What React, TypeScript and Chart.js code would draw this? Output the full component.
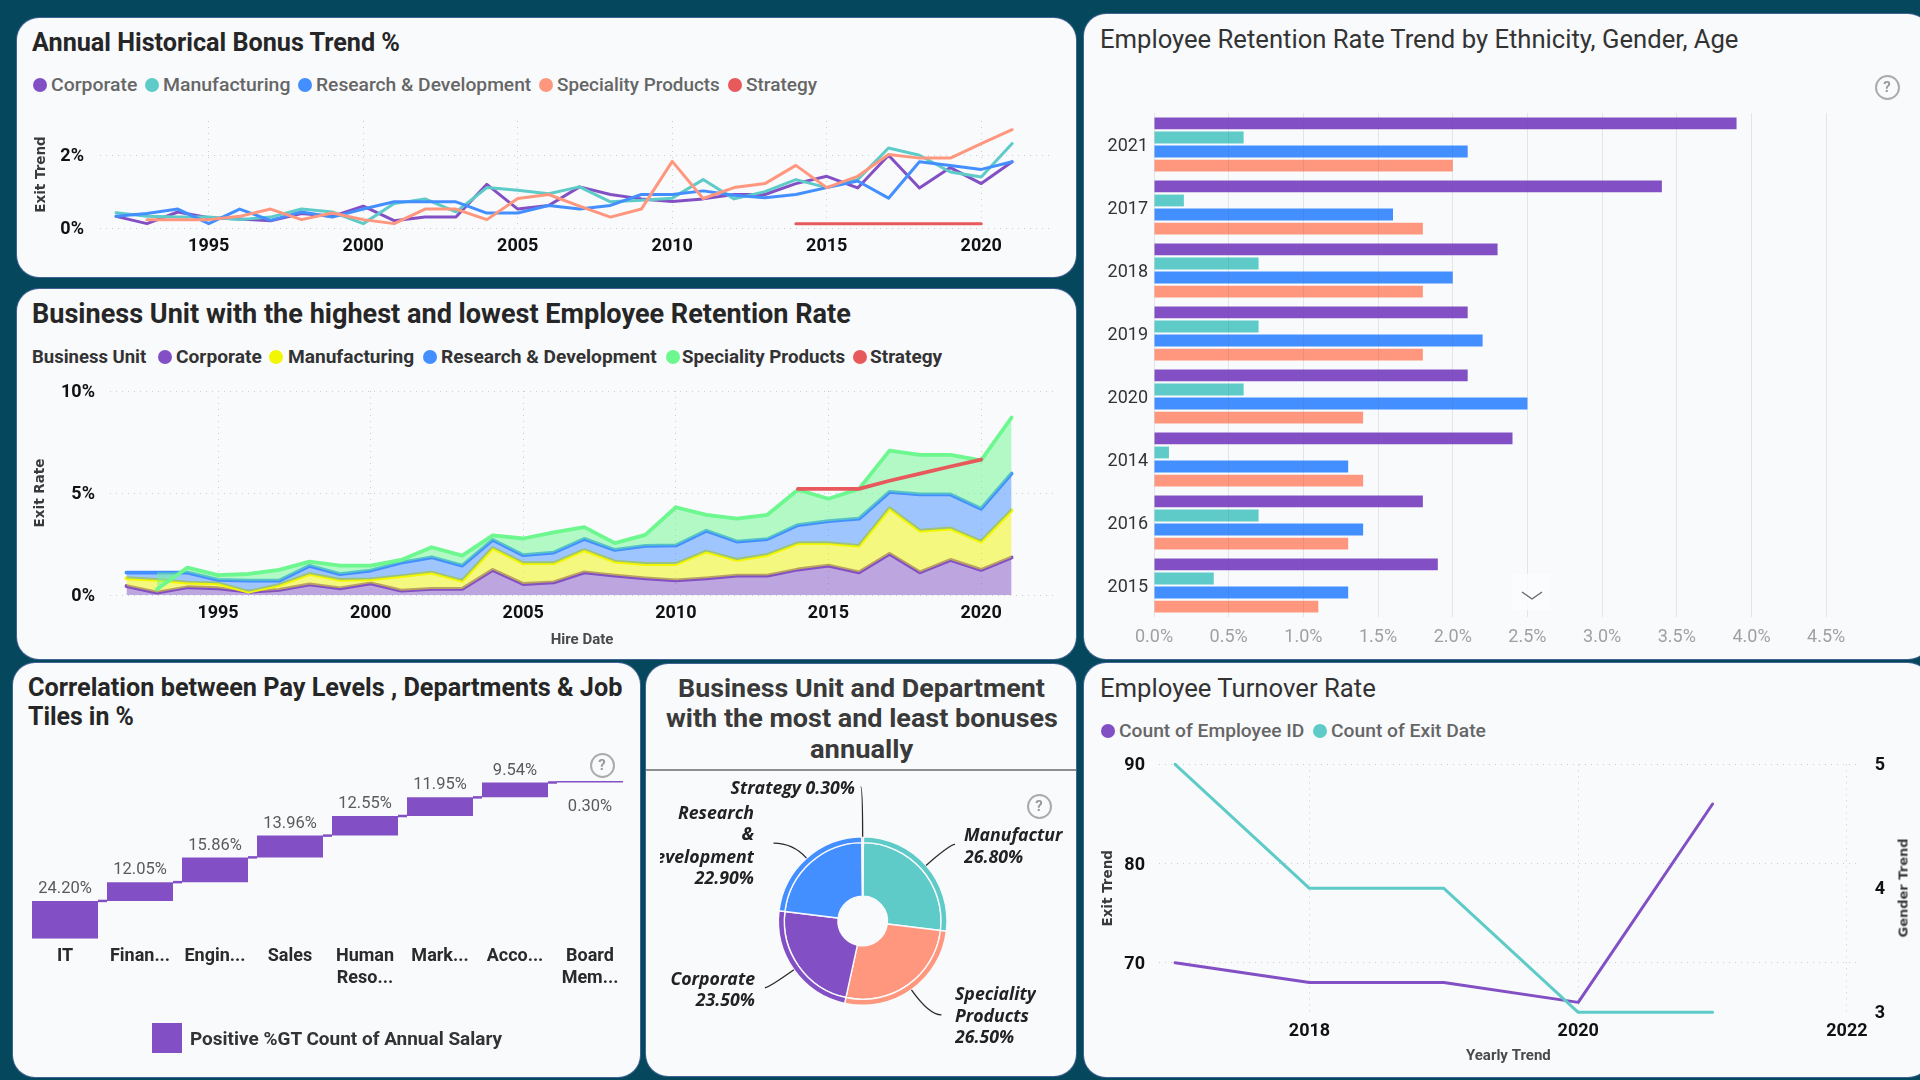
import React, { useEffect, useLayoutEffect, useRef } from "react";
import { Chart, registerables } from "chart.js";
Chart.register(...registerables);

const years = [1992,1993,1994,1995,1996,1997,1998,1999,2000,2001,2002,2003,2004,2005,2006,2007,2008,2009,2010,2011,2012,2013,2014,2015,2016,2017,2018,2019,2020,2021];

const bonusCorporate = [0.32,0.12,0.44,0.28,0.25,0.2,0.4,0.32,0.6,0.2,0.3,0.3,1.2,0.52,0.62,1.13,0.92,0.8,0.73,0.8,0.92,0.92,1.22,1.42,1.1,2.0,1.1,1.66,1.22,1.82];
const bonusManufacturing = [0.42,0.32,0.3,0.3,0.23,0.3,0.52,0.44,0.12,0.67,0.8,0.44,1.11,1.04,0.94,1.13,0.72,0.76,0.82,1.33,0.8,1.0,1.33,1.11,1.33,2.2,2.0,1.54,1.4,2.32];
const bonusResearch = [0.32,0.4,0.52,0.12,0.52,0.21,0.44,0.3,0.52,0.72,0.72,0.72,0.41,0.41,0.62,0.52,0.62,0.92,0.92,1.02,0.9,0.83,0.92,1.11,1.29,0.82,1.82,1.72,1.61,1.82];
const bonusSpeciality = [null,0.23,0.23,0.23,0.32,0.52,0.23,0.41,0.23,0.12,0.52,0.52,0.23,0.81,0.92,0.6,0.3,0.52,1.83,0.81,1.11,1.22,1.72,1.11,1.42,2.02,1.92,1.92,2.32,2.7];
const bonusStrategy = [null,null,null,null,null,null,null,null,null,null,null,null,null,null,null,null,null,null,null,null,null,null,0.12,0.12,0.12,0.12,0.12,0.12,0.12,null];

const exitCorporate = [0.44,0.12,0.38,0.33,0.16,0.25,0.52,0.33,0.57,0.21,0.3,0.3,1.23,0.54,0.62,1.11,0.95,0.82,0.72,0.82,0.95,0.95,1.25,1.44,1.11,2.02,1.11,1.72,1.23,1.84];
const exitManufacturing = [0.82,0.74,0.61,0.57,0.16,0.49,1.03,0.74,0.77,0.93,1.1,0.7,2.3,1.56,1.56,2.2,1.64,1.52,1.52,2.13,1.72,1.97,2.54,2.54,2.41,4.25,3.15,3.26,2.62,4.15];
const exitResearch = [1.1,1.1,1.1,0.74,0.7,0.7,1.43,1.02,1.2,1.59,1.85,1.44,2.7,1.95,2.08,2.75,2.21,2.41,2.43,3.15,2.62,2.74,3.43,3.62,3.74,5.05,4.93,4.93,4.23,5.95];
const exitSpeciality = [null,0.28,1.34,0.97,1.03,1.23,1.64,1.44,1.44,1.72,2.34,1.93,2.92,2.77,3.07,3.33,2.54,2.95,4.3,3.93,3.74,3.93,5.16,4.72,5.2,7.08,6.87,6.87,6.6,8.7];
const exitStrategy = [null,null,null,null,null,null,null,null,null,null,null,null,null,null,null,null,null,null,null,null,null,null,5.2,5.2,5.2,5.6,5.95,6.3,6.64,null];

const departments = [["IT"],["Finan..."],["Engin..."],["Sales"],["Human","Reso..."],["Mark..."],["Acco..."],["Board","Mem..."]];
const salaryShare = [24.2,12.05,15.86,13.96,12.55,11.95,9.54,0.3];

const units = ["Manufacturing","Speciality Products","Corporate","Research & Development","Strategy"];
const unitShare = [26.8,26.5,23.5,22.9,0.3];

const retentionYears = ["2021","2017","2018","2019","2020","2014","2016","2015"];
const retentionA = [3.9,3.4,2.3,2.1,2.1,2.4,1.8,1.9];
const retentionB = [0.6,0.2,0.7,0.7,0.6,0.1,0.7,0.4];
const retentionC = [2.1,1.6,2.0,2.2,2.5,1.3,1.4,1.3];
const retentionD = [2.0,1.8,1.8,1.8,1.4,1.4,1.3,1.1];

const turnoverYears = [2017,2018,2019,2020,2021];
const employeeCount = [70,68,68,66,86];
const exitCount = [5,4,4,3,3];

const PURPLE = "#8250C4", TEAL = "#5ECBC8", BLUE = "#438FFF", ORANGE = "#FF977E", RED = "#E8595C", YELLOW = "#F2F600", GREEN = "#6CF78F";
const CARD = "#F9FAFC";
const FONT = "Roboto, sans-serif";
const GRID = "#C9CCD0";

type Box = { l: number; t: number; r: number; b: number };

const pts = (xs: number[], ys: (number | null)[]) => xs.map((x, i) => ({ x, y: ys[i] }));
const fixTicks = (vals: number[]) => (axis: any) => { axis.ticks = vals.map((value) => ({ value })); };
const padOf = (box: Box, plot: Box, hasRightAxis = false) => ({
  top: plot.t - box.t,
  right: hasRightAxis ? 0 : box.r - plot.r,
  left: 0,
  bottom: 0,
});
const width = (n: number) => (s: any) => { s.width = n; };
const height = (n: number) => (s: any) => { s.height = n; };
const tickFont = { family: FONT, size: 18, weight: "bold" as const };
const axisTitle = (text: string, top: number) => ({
  display: true, text, color: "#3A3A3A",
  font: { family: "'DejaVu Sans', sans-serif", size: 13.5, weight: "bold" as const },
  padding: { top, bottom: 0 },
});
const xTitle = (text: string, bottom: number) => ({
  display: true, text, color: "#4A4A4A",
  font: { family: FONT, size: 15, weight: "bold" as const },
  padding: { top: 0, bottom },
});
const lineSet = (label: string, color: string, data: any, w: number, order: number, extra: any = {}) => ({
  label, data, borderColor: color, backgroundColor: color, borderWidth: w, pointRadius: 0, clip: false,
  tension: 0, fill: false, order, borderJoinStyle: "round", borderCapStyle: "round", ...extra,
});
const baseOpts = (box: Box, plot: Box, hasRightAxis = false) => ({
  responsive: false, animation: false as const,
  layout: { padding: padOf(box, plot, hasRightAxis) },
  plugins: { legend: { display: false }, tooltip: { enabled: false }, title: { display: false } },
});
const xYearAxis = (box: Box, plot: Box, min: number, max: number, ticks: number[], padding: number, title?: any) => ({
  type: "linear", min, max, afterBuildTicks: fixTicks(ticks), afterFit: height(box.b - plot.b),
  ticks: { callback: (v: any) => String(v), font: tickFont, color: "#111", padding, maxRotation: 0, autoSkip: false },
  grid: { color: GRID, drawTicks: false }, border: { display: false, dash: [1, 5] }, title,
});
const yPctAxis = (box: Box, plot: Box, max: number, ticks: number[], padding: number, title: any, fmt = (v: any) => v + "%", min = 0) => ({
  type: "linear", position: "left", min, max, afterBuildTicks: fixTicks(ticks), afterFit: width(plot.l - box.l),
  ticks: { callback: fmt, font: tickFont, color: "#111", padding, labelOffset: 1.5 },
  grid: { color: GRID, drawTicks: false }, border: { display: false, dash: [1, 5] }, title,
});

// ---------- chart configs ----------
const c1Box: Box = { l: 17, t: 18, r: 1076, b: 277 };
const c1Plot: Box = { l: 100, t: 121, r: 1052, b: 228 };
const bonusConfig = () => ({
  type: "line",
  data: { datasets: [
    lineSet("Corporate", PURPLE, pts(years, bonusCorporate), 3, 4),
    lineSet("Manufacturing", TEAL, pts(years, bonusManufacturing), 3, 3),
    lineSet("Research & Development", BLUE, pts(years, bonusResearch), 3, 2),
    lineSet("Speciality Products", ORANGE, pts(years, bonusSpeciality), 3, 1),
    lineSet("Strategy", RED, pts(years, bonusStrategy), 3, 0),
  ] },
  options: { ...baseOpts(c1Box, c1Plot), scales: {
    x: xYearAxis(c1Box, c1Plot, 1991.48, 2022.29, [1995,2000,2005,2010,2015,2020], 7.5),
    y: yPctAxis(c1Box, c1Plot, 2.94, [0,2], 16, axisTitle("Exit Trend", 16.5)),
  } },
});

const c2Box: Box = { l: 17, t: 289, r: 1076, b: 659 };
const c2Plot: Box = { l: 110, t: 391, r: 1054, b: 595 };
const exitConfig = () => ({
  type: "line",
  data: { datasets: [
    lineSet("Corporate", PURPLE, pts(years, exitCorporate), 3.8, 4, { fill: "origin", backgroundColor: "rgba(130,80,196,0.5)" }),
    lineSet("Manufacturing", YELLOW, pts(years, exitManufacturing), 3.8, 3, { fill: "-1", backgroundColor: "rgba(242,246,0,0.5)" }),
    lineSet("Research & Development", BLUE, pts(years, exitResearch), 3.8, 2, { fill: "-1", backgroundColor: "rgba(67,143,255,0.5)" }),
    lineSet("Speciality Products", GREEN, pts(years, exitSpeciality), 3.8, 1, { fill: "-1", backgroundColor: "rgba(108,247,143,0.5)" }),
    lineSet("Strategy", RED, pts(years, exitStrategy), 3.8, 0),
  ] },
  options: { ...baseOpts(c2Box, c2Plot), scales: {
    x: xYearAxis(c2Box, c2Plot, 1991.46, 2022.39, [1995,2000,2005,2010,2015,2020], 8, xTitle("Hire Date", 10)),
    y: yPctAxis(c2Box, c2Plot, 10, [0,5,10], 15, axisTitle("Exit Rate", 15.8)),
  } },
});

const c3Box: Box = { l: 13, t: 663, r: 640, b: 1077 };
const c3Plot: Box = { l: 27.5, t: 780, r: 627.5, b: 938.7 };
const waterfallPlugin = {
  id: "waterfallMarks",
  afterDatasetsDraw(chart: any) {
    const { ctx } = chart;
    const els = chart.getDatasetMeta(0).data;
    ctx.save();
    ctx.textAlign = "center";
    ctx.textBaseline = "middle";
    els.forEach((el: any, i: number) => {
      const next = els[i + 1];
      if (next) {
        ctx.strokeStyle = PURPLE;
        ctx.lineWidth = 2.5;
        ctx.beginPath();
        ctx.moveTo(el.x + el.width / 2, el.y);
        ctx.lineTo(next.x - next.width / 2, el.y);
        ctx.stroke();
      }
      ctx.fillStyle = "#5A5A5A";
      ctx.font = `16.5px ${FONT}`;
      const below = i === els.length - 1;
      ctx.fillText(salaryShare[i].toFixed(2) + "%", el.x, below ? el.y + 26 : el.y - 12);
    });
    ctx.restore();
  },
};
const running = salaryShare.reduce<number[][]>((acc, v) => {
  const start = acc.length ? acc[acc.length - 1][1] : 0;
  acc.push([start, start + v]);
  return acc;
}, []);
const waterfallConfig = () => ({
  type: "bar",
  data: { labels: departments, datasets: [{ label: "Positive %GT Count of Annual Salary", data: running, backgroundColor: PURPLE, barPercentage: 0.88, categoryPercentage: 1, minBarLength: 1.5 }] },
  options: { ...baseOpts(c3Box, c3Plot), layout: { padding: { ...padOf(c3Box, c3Plot), left: c3Plot.l - c3Box.l } }, scales: {
    x: { type: "category", afterFit: height(c3Box.b - c3Plot.b),
      ticks: { font: { family: FONT, size: 18, weight: "bold" as const }, color: "#2A2A2A", padding: 7, maxRotation: 0, autoSkip: false },
      grid: { display: false, drawTicks: false }, border: { display: false } },
    y: { display: false, min: 0, max: 101.7 },
  } },
  plugins: [waterfallPlugin],
});

const c4Box: Box = { l: 646, t: 770, r: 1076, b: 1076 };
const leaderEnds = [[29, -21], [30, 25], [-29, 18], [-33, -15], [-2, -50]];
const leaderPlugin = {
  id: "pieLeaders",
  afterDatasetsDraw(chart: any) {
    const { ctx } = chart;
    const els = chart.getDatasetMeta(0).data;
    ctx.save();
    ctx.strokeStyle = "#2A2A2A";
    ctx.lineWidth = 1.3;
    els.forEach((el: any, i: number) => {
      const mid = (el.startAngle + el.endAngle) / 2;
      const dx = Math.cos(mid), dy = Math.sin(mid);
      const sx = el.x + dx * el.outerRadius, sy = el.y + dy * el.outerRadius;
      const [ox, oy] = leaderEnds[i];
      const t = oy / dy;
      ctx.beginPath();
      ctx.moveTo(sx, sy);
      ctx.quadraticCurveTo(sx + dx * t, sy + oy, sx + ox, sy + oy);
      ctx.stroke();
    });
    ctx.restore();
  },
};
const pieColors = [TEAL, ORANGE, PURPLE, BLUE, RED];
const pieConfig = () => ({
  type: "doughnut",
  data: { labels: units, datasets: [
    { data: unitShare, backgroundColor: pieColors, borderColor: CARD, borderWidth: 1.4, weight: 1 },
    { data: unitShare, backgroundColor: pieColors, borderColor: CARD, borderWidth: 1.4, weight: 9 },
  ] },
  options: {
    responsive: false, animation: false as const, rotation: 0.5, cutout: "29.4%",
    layout: { padding: { top: 66, bottom: 70, left: 131.7, right: 128.3 } },
    plugins: { legend: { display: false }, tooltip: { enabled: false } },
  },
  plugins: [leaderPlugin],
});

const c5Box: Box = { l: 1084, t: 14, r: 1920, b: 659 };
const c5Plot: Box = { l: 1154, t: 113, r: 1871, b: 617 };
const barSet = (label: string, data: number[], color: string) => ({
  label, data, backgroundColor: color, categoryPercentage: 0.89, barPercentage: 0.84,
});
const retentionConfig = () => ({
  type: "bar",
  data: { labels: retentionYears, datasets: [
    barSet("Corporate", retentionA, PURPLE),
    barSet("Manufacturing", retentionB, TEAL),
    barSet("Research & Development", retentionC, BLUE),
    barSet("Speciality Products", retentionD, ORANGE),
  ] },
  options: { ...baseOpts(c5Box, c5Plot), indexAxis: "y", scales: {
    x: { type: "linear", position: "bottom", min: 0, max: 4.8, afterFit: height(c5Box.b - c5Plot.b), afterBuildTicks: fixTicks([0,0.5,1,1.5,2,2.5,3,3.5,4,4.5]),
      ticks: { callback: (v: any) => Number(v).toFixed(1) + "%", font: { family: FONT, size: 18 }, color: "#A0A0A0", padding: 10, maxRotation: 0, autoSkip: false },
      grid: { color: "rgba(90,90,110,0.13)", drawTicks: false, z: 1 }, border: { display: false } },
    y: { type: "category", offset: true, afterFit: width(c5Plot.l - c5Box.l),
      ticks: { font: { family: FONT, size: 18 }, color: "#333", padding: 6, labelOffset: 1.5, autoSkip: false },
      grid: { display: false, drawTicks: false }, border: { display: false } },
  } },
});

const c6Box: Box = { l: 1084, t: 663, r: 1920, b: 1077 };
const c6Plot: Box = { l: 1159, t: 764.3, r: 1857.7, b: 1012.3 };
const turnoverConfig = () => ({
  type: "line",
  data: { datasets: [
    lineSet("Count of Employee ID", PURPLE, pts(turnoverYears, employeeCount), 3, 1, { yAxisID: "y" }),
    lineSet("Count of Exit Date", TEAL, pts(turnoverYears, exitCount), 3, 0, { yAxisID: "y2" }),
  ] },
  options: { ...baseOpts(c6Box, c6Plot, true), scales: {
    x: xYearAxis(c6Box, c6Plot, 2016.88, 2022.08, [2018,2020,2022], 8, xTitle("Yearly Trend", 12)),
    y: yPctAxis(c6Box, c6Plot, 90, [70,80,90], 14, axisTitle("Exit Trend", 16.8), (v: any) => String(v), 65),
    y2: { type: "linear", position: "right", min: 3, max: 5, afterBuildTicks: fixTicks([3,4,5]), afterFit: width(c6Box.r - c6Plot.r),
      ticks: { callback: (v: any) => String(v), font: tickFont, color: "#111", padding: 17, labelOffset: 1.5 },
      grid: { display: false, drawTicks: false }, border: { display: false } },
  } },
});

// ---------- components ----------
function ChartCanvas({ box, make }: { box: Box; make: () => any }) {
  const ref = useRef<HTMLCanvasElement>(null);
  useEffect(() => {
    const chart = new Chart(ref.current as any, make());
    return () => chart.destroy();
  }, []);
  return (
    <canvas ref={ref} width={box.r - box.l} height={box.b - box.t}
      style={{ position: "absolute", left: box.l, top: box.t, width: box.r - box.l, height: box.b - box.t, display: "block" }} />
  );
}

function T({ x, y, w, children, s }: { x: number; y: number; w: number; children: any; s?: any }) {
  const ref = useRef<HTMLDivElement>(null);
  useLayoutEffect(() => {
    const el = ref.current as HTMLDivElement;
    el.style.transform = `translateY(-50%) scaleX(${w / el.offsetWidth})`;
  }, []);
  return (
    <div ref={ref} style={{ position: "absolute", left: x, top: y, whiteSpace: "nowrap", transformOrigin: "left center",
      transform: "translateY(-50%)", fontFamily: FONT, lineHeight: 1.2, ...s }}>{children}</div>
  );
}

function Card({ b }: { b: Box }) {
  return <div style={{ position: "absolute", left: b.l, top: b.t, width: b.r - b.l, height: b.b - b.t, background: CARD, borderRadius: 22, boxSizing: "border-box", boxShadow: "0 0 0 1px rgba(140,130,210,0.45)" }} />;
}

function Dot({ x, y, color }: { x: number; y: number; color: string }) {
  return <div style={{ position: "absolute", left: x - 7.2, top: y - 7.2, width: 14.4, height: 14.4, borderRadius: "50%", background: color }} />;
}

function Help({ x, y }: { x: number; y: number }) {
  return (
    <div style={{ position: "absolute", left: x - 12.5, top: y - 12.5, width: 25, height: 25, boxSizing: "border-box", borderRadius: "50%", border: "2.5px solid #ABABAB", color: "#9A9A9A", fontFamily: FONT, fontWeight: 700, fontSize: 15, lineHeight: "20px", textAlign: "center" }}>?</div>
  );
}

const title = { fontSize: 26, fontWeight: 700, color: "#262626" };
const subtitle = { fontSize: 25.5, fontWeight: 400, color: "#333" };
const legend1 = { fontSize: 18.5, fontWeight: 500, color: "#666" };
const legend2 = { fontSize: 18.5, fontWeight: 700, color: "#333" };
const pieText = { fontFamily: "'Open Sans', sans-serif", fontSize: 17.7, fontWeight: 700, fontStyle: "italic", color: "#222" };

function Right({ r, y, l, text }: { r: number; y: number; l: number; text: string }) {
  return (
    <div style={{ position: "absolute", left: l, width: r - l, top: y - 12, height: 24, lineHeight: "24px", overflow: "hidden", whiteSpace: "nowrap", display: "flex", justifyContent: "flex-end", ...pieText }}>
      <span style={{ flex: "none" }}>{text}</span>
    </div>
  );
}
function Left({ x, y, r, text }: { x: number; y: number; r?: number; text: string }) {
  return (
    <div style={{ position: "absolute", left: x, width: r ? r - x : undefined, top: y - 12, height: 24, lineHeight: "24px", overflow: "hidden", whiteSpace: "nowrap", ...pieText }}>{text}</div>
  );
}

export default function App() {
  return (
    <div style={{ position: "fixed", left: 0, top: 0, width: 1920, height: 1080, overflow: "hidden", background: "#05485D" }}>
      <Card b={c1Box} />
      <Card b={c2Box} />
      <Card b={{ l: 13, t: 663, r: 640, b: 1077 }} />
      <Card b={{ l: 646, t: 664, r: 1076, b: 1076 }} />
      <Card b={{ l: 1084, t: 14, r: 1930, b: 659 }} />
      <Card b={{ l: 1084, t: 663, r: 1930, b: 1077 }} />

      <T x={32} y={43} w={368} s={title}>Annual Historical Bonus Trend %</T>
      <Dot x={40} y={85} color={PURPLE} /><T x={51} y={85} w={86} s={legend1}>Corporate</T>
      <Dot x={152} y={85} color={TEAL} /><T x={163} y={85} w={127} s={legend1}>Manufacturing</T>
      <Dot x={305} y={85} color={BLUE} /><T x={316} y={85} w={215} s={legend1}>Research &amp; Development</T>
      <Dot x={546} y={85} color={ORANGE} /><T x={557} y={85} w={163} s={legend1}>Speciality Products</T>
      <Dot x={735} y={85} color={RED} /><T x={746} y={85} w={71} s={legend1}>Strategy</T>
      <ChartCanvas box={c1Box} make={bonusConfig} />

      <T x={32} y={314} w={819} s={{ ...title, fontSize: 27 }}>Business Unit with the highest and lowest Employee Retention Rate</T>
      <T x={32} y={357} w={114} s={legend2}>Business Unit</T>
      <Dot x={165} y={357} color={PURPLE} /><T x={176} y={357} w={86} s={legend2}>Corporate</T>
      <Dot x={276} y={357} color={YELLOW} /><T x={288} y={357} w={126} s={legend2}>Manufacturing</T>
      <Dot x={430} y={357} color={BLUE} /><T x={441} y={357} w={216} s={legend2}>Research &amp; Development</T>
      <Dot x={673} y={357} color={GREEN} /><T x={682} y={357} w={163} s={legend2}>Speciality Products</T>
      <Dot x={860} y={357} color={RED} /><T x={870} y={357} w={72} s={legend2}>Strategy</T>
      <ChartCanvas box={c2Box} make={exitConfig} />

      <T x={28} y={688} w={594} s={title}>Correlation between Pay Levels , Departments &amp; Job</T>
      <T x={28} y={717} w={106} s={title}>Tiles in %</T>
      <ChartCanvas box={c3Box} make={waterfallConfig} />
      <Help x={602} y={765} />
      <div style={{ position: "absolute", left: 152, top: 1023, width: 30, height: 30, background: PURPLE }} />
      <T x={190} y={1039} w={312} s={{ fontSize: 18, fontWeight: 700, color: "#333" }}>Positive %GT Count of Annual Salary</T>

      <T x={678} y={688} w={367} s={{ ...title, fontSize: 26.5, color: "#3A3A3A" }}>Business Unit and Department</T>
      <T x={666} y={718} w={392} s={{ ...title, fontSize: 26.5, color: "#3A3A3A" }}>with the most and least bonuses</T>
      <T x={810} y={749} w={103} s={{ ...title, fontSize: 26.5, color: "#3A3A3A" }}>annually</T>
      <div style={{ position: "absolute", left: 646, top: 769, width: 430, height: 1.5, background: "#8E8E8E" }} />
      <ChartCanvas box={c4Box} make={pieConfig} />
      <Help x={1039} y={806} />
      <Right r={855} l={700} y={787} text="Strategy 0.30%" />
      <Right r={754} l={660} y={812} text="Research" />
      <Right r={754} l={660} y={833} text="&" />
      <Right r={754} l={660} y={856} text="Development" />
      <Right r={754} l={660} y={877} text="22.90%" />
      <Left x={964} y={834} r={1063} text="Manufacturing" />
      <Left x={964} y={856} text="26.80%" />
      <Left x={955} y={993} text="Speciality" />
      <Left x={955} y={1015} text="Products" />
      <Left x={955} y={1036} text="26.50%" />
      <Right r={755} l={660} y={978} text="Corporate" />
      <Right r={755} l={660} y={999} text="23.50%" />

      <T x={1100} y={39} w={638} s={subtitle}>Employee Retention Rate Trend by Ethnicity, Gender, Age</T>
      <ChartCanvas box={c5Box} make={retentionConfig} />
      <Help x={1887} y={87} />
      <div style={{ position: "absolute", left: 1512, top: 574, width: 39, height: 36, background: "rgba(250,251,253,0.85)" }}>
        <svg width={39} height={36}><polyline points="10,18 20,25 30,18" fill="none" stroke="#666" strokeWidth={1.4} /></svg>
      </div>

      <T x={1100} y={688} w={276} s={subtitle}>Employee Turnover Rate</T>
      <Dot x={1108} y={731} color={PURPLE} /><T x={1119} y={731} w={185} s={legend1}>Count of Employee ID</T>
      <Dot x={1320} y={731} color={TEAL} /><T x={1331} y={731} w={155} s={legend1}>Count of Exit Date</T>
      <ChartCanvas box={c6Box} make={turnoverConfig} />
      <div style={{ position: "absolute", left: 1903, top: 888, transform: "translate(-50%,-50%) rotate(-90deg)", whiteSpace: "nowrap", fontFamily: "'DejaVu Sans', sans-serif", fontSize: 13, fontWeight: 700, color: "#3A3A3A" }}>Gender Trend</div>
    </div>
  );
}
